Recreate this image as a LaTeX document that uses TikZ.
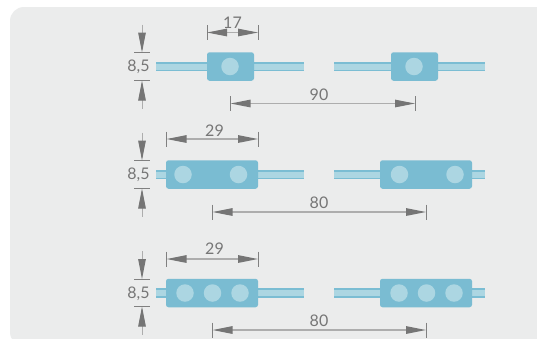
\documentclass[tikz,border=0pt]{standalone}
\usepackage{fontspec}
\setmainfont{Lato}
\usetikzlibrary{arrows.meta}
\definecolor{panelc}{HTML}{EBECEC}
\definecolor{edgec}{HTML}{7BBDD3}
\definecolor{lightc}{HTML}{ACD6E2}
\definecolor{modc}{HTML}{7ABCD2}
\definecolor{tickc}{HTML}{808080}
\definecolor{shaftc}{HTML}{ADADAD}
\definecolor{headc}{HTML}{757575}
\definecolor{txtc}{HTML}{767676}
\tikzset{
  module/.style={fill=modc,draw=none,rounded corners=2.5pt,inner sep=0pt,minimum height=28.5pt},
  led/.style={circle,fill=lightc,draw=none,inner sep=0pt,minimum size=17.5pt},
  stripe/.style={draw=edgec,line width=9.5pt},
  stripein/.style={draw=lightc,line width=6pt},
  tick/.style={draw=tickc,line width=0.9pt},
  dimh/.style={draw=shaftc,line width=1.3pt,{Triangle[length=20pt,width=7.5pt,color=headc]}-{Triangle[length=20pt,width=7.5pt,color=headc]}},
  dimv/.style={draw=shaftc,line width=1pt,-{Triangle[length=20pt,width=7.5pt,color=headc]}},
  lab/.style={text=txtc,font=\fontsize{16}{16}\selectfont,inner sep=0pt}
}
% name, x1, x2, y, label-x, label-y, label
\newcommand{\hdimen}[7]{%
  \coordinate (#1a) at (#2,#4);
  \coordinate (#1b) at (#3,#4);
  \draw[tick] ([yshift=7.5pt]#1a) -- ([yshift=-7.5pt]#1a);
  \draw[tick] ([yshift=7.5pt]#1b) -- ([yshift=-7.5pt]#1b);
  \draw[dimh] (#1a) -- (#1b);
  \node[lab] (#1t) at (#5,#6) {#7};
}
% name, top tick y, bottom tick y, centre y
\newcommand{\vdimen}[4]{%
  \coordinate (#1a) at (142,#2);
  \coordinate (#1b) at (142,#3);
  \coordinate (#1c) at (142,#2-28);
  \coordinate (#1d) at (142,#3+28);
  \draw[tick] ([xshift=-8pt]#1a) -- ([xshift=8pt]#1a);
  \draw[tick] ([xshift=-8pt]#1b) -- ([xshift=8pt]#1b);
  \draw[dimv] (#1c) -- (#1a);
  \draw[dimv] (#1d) -- (#1b);
  \node[lab] (#1t) at (138.5,#4) {8,5};
}
% name, x1, x2, y
\newcommand{\stripbar}[4]{%
  \coordinate (#1a) at (#2,#4);
  \coordinate (#1b) at (#3,#4);
  \draw[stripe] (#1a) -- (#1b);
  \draw[stripein] (#1a) -- (#1b);
}
\begin{document}
\begin{tikzpicture}[x=1pt,y=-1pt]
\useasboundingbox (0,0) rectangle (537,338);
\fill[white] (0,0) rectangle (537,338);
\fill[panelc,rounded corners=14pt] (10,7) rectangle (560,346);

% row 1
\stripbar{sa}{156}{304}{66.5}
\stripbar{sb}{334}{485}{66.5}
\node[module,minimum width=47pt] (m1) at (230.5,66.5) {};
\node[module,minimum width=47pt] (m2) at (414.5,66.5) {};
\node[led] (l1) at (230,66.5) {};
\node[led] (l2) at (414,66.5) {};
\hdimen{d1}{207}{258}{32.5}{232.5}{23}{17}
\hdimen{d2}{230.5}{415}{103.5}{319}{95}{90}
\vdimen{v1}{52.5}{80.5}{66.5}

% row 2
\stripbar{sc}{156}{304}{174.5}
\stripbar{sd}{334}{485}{174.5}
\node[module,minimum width=92pt] (m3) at (212,174.5) {};
\node[module,minimum width=92pt] (m4) at (426,174.5) {};
\node[led] (l3) at (183,174.5) {};
\node[led] (l4) at (238.5,174.5) {};
\node[led] (l5) at (399.5,174.5) {};
\node[led] (l6) at (455,174.5) {};
\hdimen{d3}{166.5}{258}{139}{214.5}{131}{29}
\hdimen{d4}{212.5}{426}{212}{319}{203}{80}
\vdimen{v2}{160.5}{188.5}{175}

% row 3
\stripbar{se}{156}{304}{293}
\stripbar{sf}{334}{485}{293}
\node[module,minimum width=92pt] (m5) at (212,293) {};
\node[module,minimum width=92pt] (m6) at (426,293) {};
\node[led] (l7) at (185,293) {};
\node[led] (l8) at (212.5,293) {};
\node[led] (l9) at (240,293) {};
\node[led] (l10) at (399,293) {};
\node[led] (l11) at (426.5,293) {};
\node[led] (l12) at (454,293) {};
\hdimen{d5}{166.5}{258}{259}{214.5}{249}{29}
\hdimen{d6}{212.5}{426}{330}{319}{321}{80}
\vdimen{v3}{279}{306.5}{293.5}
\end{tikzpicture}
\end{document}
